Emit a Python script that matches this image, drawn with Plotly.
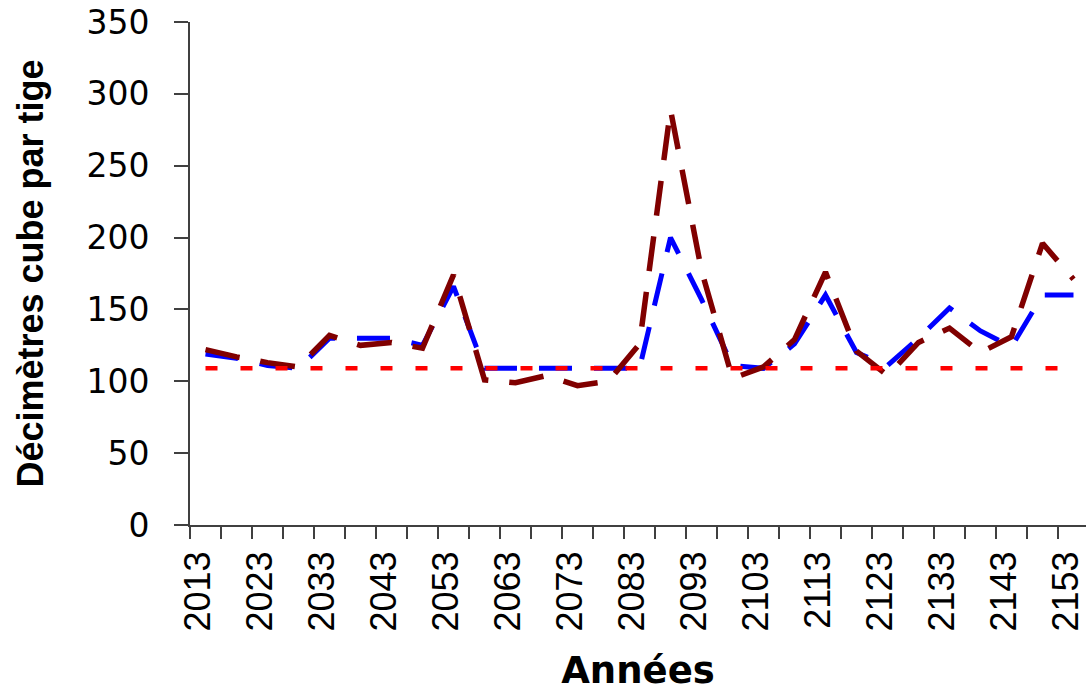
import plotly.graph_objects as go

# Data
years = [2013, 2018, 2023, 2028, 2033, 2038, 2043, 2048, 2053, 2058,
         2063, 2068, 2073, 2078, 2083, 2088, 2093, 2098, 2103, 2108,
         2113, 2118, 2123, 2128, 2133, 2138, 2143, 2148, 2153]

serie_bleue = [119, 116, 111, 109, 130, 130, 130, 125, 166, 109,
               109, 109, 109, 109, 109, 200, 157, 111, 109, 126,
               160, 120, 111, 130, 151, 135, 124, 160, 160]

serie_bordeaux = [122, 117, 113, 110, 132, 125, 127, 123, 174, 101,
                  99, 104, 97, 100, 126, 289, 177, 102, 110, 129,
                  176, 121, 104, 127, 137, 120, 131, 196, 171]

seuil = [109] * len(years)

label_years = years[::2]
y_ticks = [0, 50, 100, 150, 200, 250, 300, 350]

FONT_ROT = "Liberation Sans, Arial, sans-serif"
FONT_HOR = "DejaVu Sans, Verdana, sans-serif"

W, H = 1086, 692
PLOT_L, PLOT_T, PLOT_H = 190, 22, 503
PLOT_W = W - PLOT_L
CAT_PX = 31.0  # pixel width of one category

fig = go.Figure()
fig.add_trace(go.Scatter(x=years, y=serie_bleue, mode="lines",
                         line=dict(color="#0000FF", width=5, dash="33px,22px"),
                         name="Série 1"))
fig.add_trace(go.Scatter(x=years, y=serie_bordeaux, mode="lines",
                         line=dict(color="#800000", width=5.5, dash="35px,21px"),
                         name="Série 2"))
fig.add_trace(go.Scatter(x=years, y=seuil, mode="lines",
                         line=dict(color="#FF0000", width=4.5, dash="12px,23px"),
                         name="Seuil"))

step = years[1] - years[0]
boundaries = [y - step / 2 for y in years] + [years[-1] + step / 2]
label_shift = 7 / CAT_PX * step  # rotated labels sit slightly left of centre

fig.update_layout(
    width=W, height=H,
    margin=dict(l=PLOT_L, r=0, t=PLOT_T, b=H - PLOT_T - PLOT_H, autoexpand=False),
    paper_bgcolor="white", plot_bgcolor="white",
    showlegend=False,
    font=dict(family=FONT_ROT, color="black"),
)

fig.update_xaxes(
    automargin=False,
    range=[years[0] - step / 2, years[0] - step / 2 + PLOT_W / CAT_PX * step],
    tickmode="array", tickvals=[v - label_shift for v in label_years],
    ticktext=[str(v) for v in label_years],
    tickangle=-90, ticks="", tickfont=dict(size=36, family=FONT_ROT),
    ticklabelstandoff=10, ticklabeloverflow="allow",
    minor=dict(tickmode="array", tickvals=boundaries, ticks="outside",
               ticklen=12, tickcolor="#404040", tickwidth=1.5),
    showline=True, linecolor="#404040", linewidth=2,
    showgrid=False, zeroline=False,
    title=dict(text="Années", font=dict(size=37, family=FONT_HOR, weight="bold"),
               standoff=34),
)

fig.update_yaxes(
    automargin=False,
    range=[0, 350], tickmode="array", tickvals=y_ticks,
    ticks="outside", ticklen=14, tickcolor="#404040", tickwidth=1.5,
    tickfont=dict(size=33, family=FONT_HOR), ticklabelstandoff=18,
    ticklabeloverflow="allow",
    showline=True, linecolor="#404040", linewidth=2,
    showgrid=False, zeroline=False,
    title=dict(text="Décimètres cube par tige",
               font=dict(size=36, family=FONT_ROT, weight="bold"), standoff=32),
)

fig.write_html("out.html",
               config={"displayModeBar": False},
               post_script="document.body.style.margin='0';"
                           "document.body.style.overflow='hidden';")
